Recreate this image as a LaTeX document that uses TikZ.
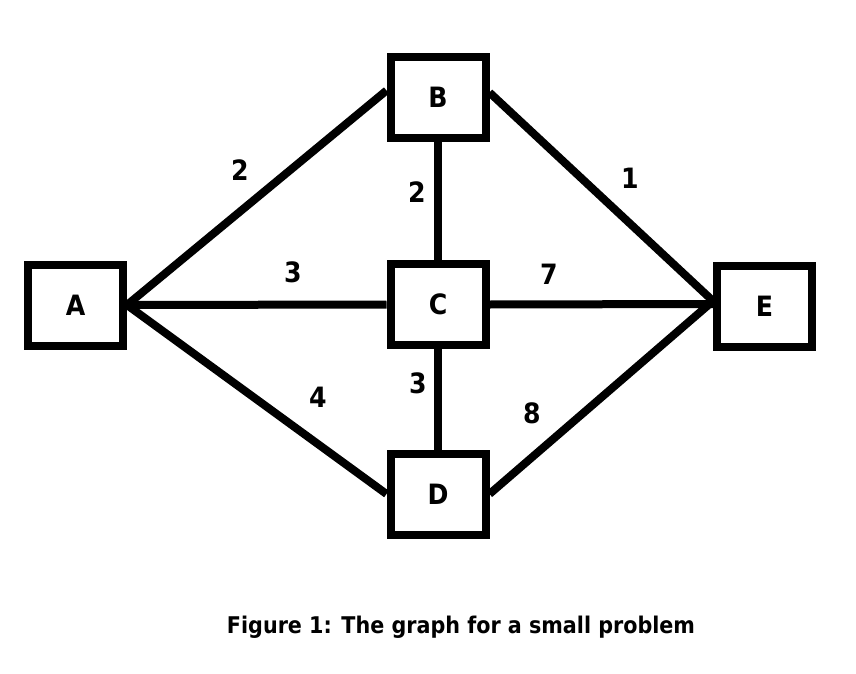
\documentclass[tikz,border=0pt]{standalone}
\usepackage{fontspec}
\setmainfont{DejaVu Sans Condensed}[BoldFont={DejaVu Sans Condensed Bold}]
\begin{document}
\begin{tikzpicture}[x=1pt,y=-1pt,
  vbox/.style={draw,line width=8pt,minimum width=95pt,minimum height=81pt,inner sep=0pt,font=\fontsize{28}{30}\selectfont\bfseries},
  edge/.style={line width=8pt},
  wt/.style={font=\fontsize{28}{30}\selectfont\bfseries,inner sep=0pt}]
\useasboundingbox (0,0) rectangle (856,674);
\node[vbox] (A) at (75.5,305) {A};
\node[vbox] (B) at (438,97.5) {B};
\node[vbox] (C) at (438,304.5) {C};
\node[vbox] (D) at (438,494) {D};
\node[vbox] (E) at (764.5,306) {E};
\draw[edge] (A.east) -- ([yshift=7pt]B.west);
\draw[edge] (A.east) -- (C.west);
\draw[edge] (A.east) -- (D.west);
\draw[edge] (B.south) -- (C.north);
\draw[edge] (C.south) -- (D.north);
\draw[edge] ([yshift=5pt]B.east) -- ([yshift=5pt]E.west);
\draw[edge] (C.east) -- ([yshift=2pt]E.west);
\draw[edge] (D.east) -- ([yshift=5pt]E.west);
\node[wt] (w1) at (240,170) {2};
\node[wt] (w2) at (417,192) {2};
\node[wt] (w3) at (630,178) {1};
\node[wt] (w4) at (293,272) {3};
\node[wt] (w5) at (549,274) {7};
\node[wt] (w6) at (318,397) {4};
\node[wt] (w7) at (418,383) {3};
\node[wt] (w8) at (532,413) {8};
\node[inner sep=0pt,font=\fontsize{23}{25}\selectfont\bfseries] (cap) at (461,627) {Figure 1: The graph for a small problem};
\end{tikzpicture}
\end{document}
